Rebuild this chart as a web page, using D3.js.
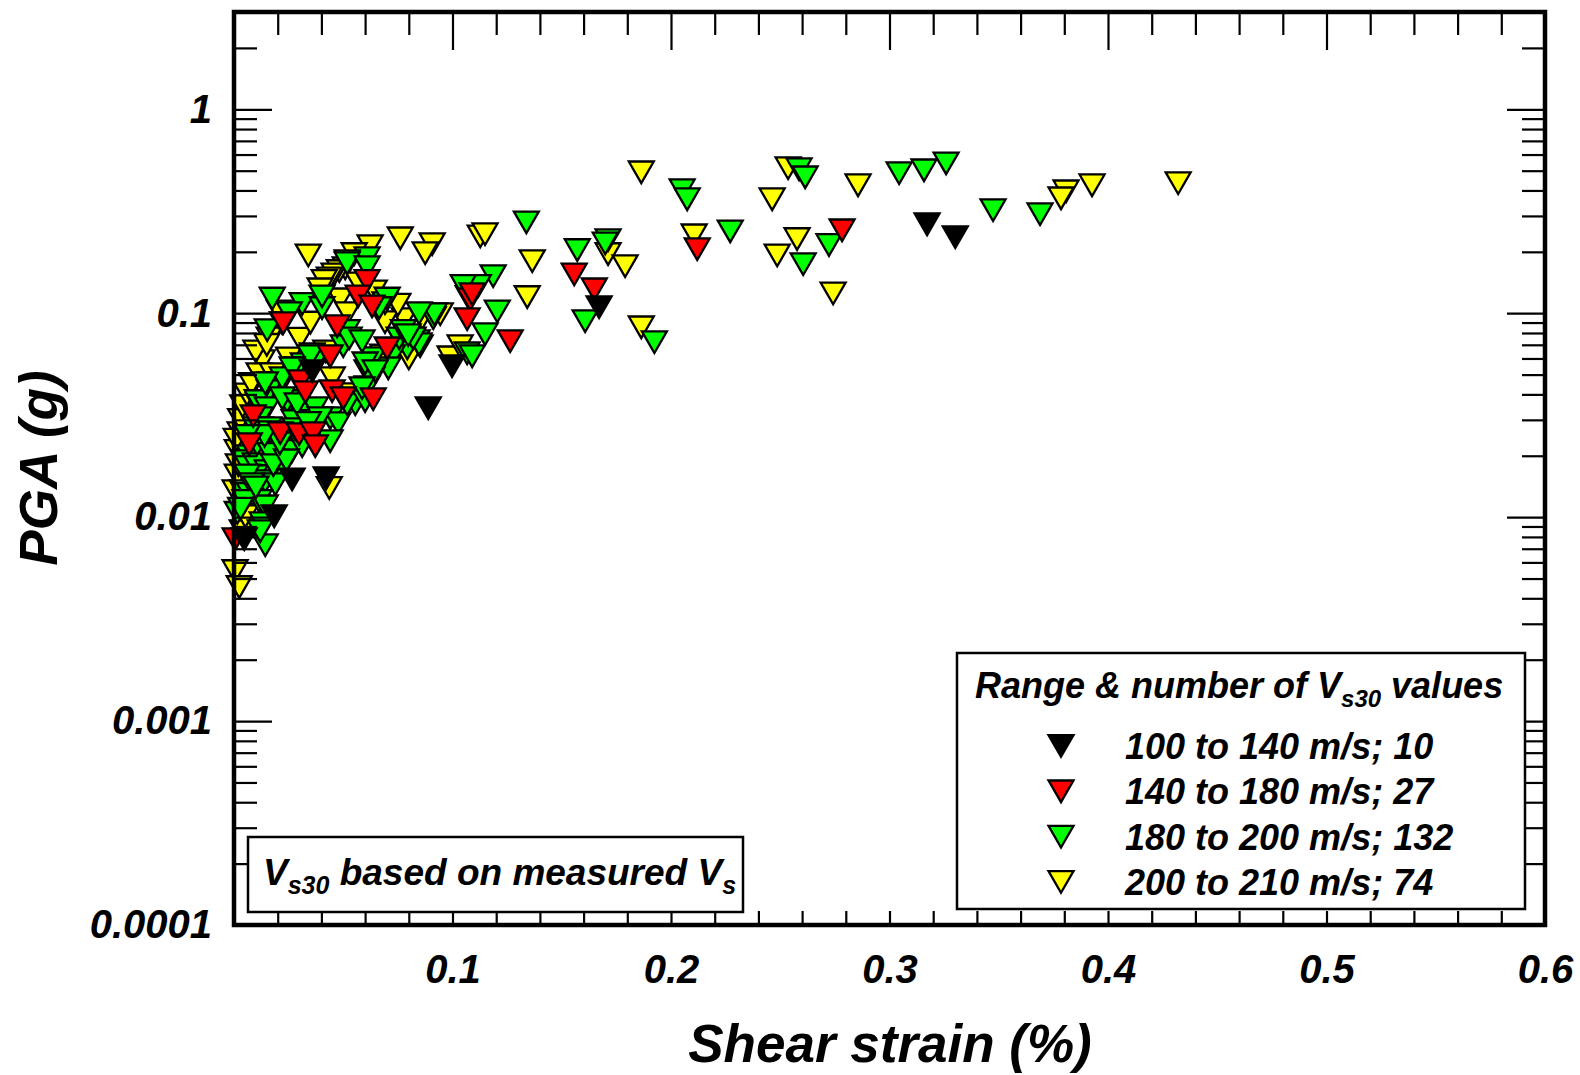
<!DOCTYPE html>
<html>
<head>
<meta charset="utf-8">
<script src="https://cdn.jsdelivr.net/npm/d3@7"></script>
<style>
  html, body { margin: 0; padding: 0; background: #fff; }
  svg text { font-family: "Liberation Sans", Arial, sans-serif; font-weight: bold; font-style: italic; fill: #000; }
</style>
</head>
<body>
<svg id="chart" width="1580" height="1075"></svg>
<script>
// [shear strain %, PGA g]
const black = [
  [0.3172, 0.273], [0.3301, 0.236], [0.1671, 0.107], [0.0998, 0.055], [0.0889, 0.0342],
  [0.0358, 0.052], [0.0266, 0.0153], [0.0422, 0.0155], [0.0184, 0.0101], [0.0047, 0.0078]
];
const red = [
  [0.2783, 0.255], [0.2120, 0.206], [0.1557, 0.155], [0.1649, 0.131], [0.1264, 0.0729],
  [0.1081, 0.117], [0.1067, 0.0935], [0.1090, 0.124], [0.0609, 0.144], [0.0568, 0.121],
  [0.0632, 0.108], [0.0225, 0.0893], [0.0472, 0.0863], [0.0701, 0.0673], [0.0440, 0.0615],
  [0.0303, 0.0464], [0.0449, 0.0415], [0.0500, 0.0383], [0.0637, 0.0379], [0.0088, 0.0313],
  [0.0070, 0.0228], [0.0211, 0.0258], [0.0298, 0.0255], [0.0362, 0.0258], [0.0372, 0.0223],
  [0.0005, 0.0078], [0.0327, 0.041]
];
const green = [
  [0.2051, 0.401], [0.2074, 0.362], [0.2586, 0.508], [0.2614, 0.464], [0.3044, 0.486],
  [0.3158, 0.502], [0.3259, 0.543], [0.3474, 0.320], [0.3689, 0.306], [0.2271, 0.252],
  [0.2723, 0.216], [0.2605, 0.174], [0.1338, 0.279], [0.1571, 0.204], [0.1712, 0.228],
  [0.1699, 0.220], [0.1607, 0.0914], [0.1924, 0.0721], [0.1186, 0.152], [0.1118, 0.136],
  [0.1072, 0.120], [0.1205, 0.102], [0.1149, 0.0789], [0.1067, 0.0636], [0.1090, 0.0615],
  [0.0912, 0.0945], [0.0838, 0.0729], [0.0852, 0.0689], [0.0793, 0.0673], [0.0724, 0.0615],
  [0.0706, 0.0537], [0.0691, 0.112], [0.0609, 0.186], [0.0518, 0.180], [0.0175, 0.118],
  [0.0312, 0.111], [0.0403, 0.106], [0.0221, 0.0893], [0.0152, 0.0826], [0.0509, 0.0798],
  [0.0500, 0.0689], [0.0637, 0.0602], [0.0358, 0.0630], [0.0381, 0.0602], [0.0317, 0.0562],
  [0.0289, 0.0537], [0.0166, 0.0454], [0.0111, 0.0358], [0.0243, 0.0350], [0.0362, 0.0331],
  [0.0609, 0.0520], [0.0632, 0.0480], [0.0609, 0.0434], [0.0555, 0.0358], [0.0440, 0.0306],
  [0.0477, 0.0289], [0.0120, 0.0273],
  [0.0161, 0.0415], [0.0106, 0.0371], [0.0243, 0.0371], [0.0152, 0.0342], [0.0326, 0.0331],
  [0.0372, 0.0342], [0.0518, 0.0358], [0.0600, 0.0371], [0.0120, 0.0306], [0.0275, 0.0296],
  [0.0097, 0.0273], [0.0161, 0.0273], [0.0115, 0.0236], [0.0175, 0.0215], [0.0266, 0.0211],
  [0.0312, 0.0223], [0.0440, 0.0236], [0.0070, 0.0199], [0.0047, 0.0188], [0.0097, 0.0182],
  [0.0152, 0.0168], [0.0211, 0.0168], [0.0097, 0.0159], [0.0143, 0.0150], [0.0189, 0.0145],
  [0.0038, 0.0134], [0.0070, 0.0130], [0.0115, 0.0120], [0.0143, 0.0113], [0.0015, 0.0105],
  [0.0129, 0.00935], [0.0143, 0.00729], [0.0120, 0.00854],
  [0.0518, 0.176], [0.0609, 0.168], [0.0403, 0.121], [0.0253, 0.100], [0.0701, 0.118],
  [0.0664, 0.106], [0.0917, 0.0989], [0.0847, 0.100], [0.0756, 0.0753], [0.0847, 0.0705],
  [0.0518, 0.0818], [0.0527, 0.0753], [0.0349, 0.0615], [0.0600, 0.0568], [0.0646, 0.0520],
  [0.0221, 0.0480], [0.0143, 0.0454], [0.0266, 0.0537], [0.0586, 0.0429], [0.1049, 0.136],
  [0.0775, 0.0818], [0.0820, 0.0753], [0.0586, 0.0729], [0.0797, 0.0780], [0.0394, 0.0306],
  [0.0166, 0.0261], [0.0106, 0.0228], [0.0166, 0.0204], [0.0221, 0.0383], [0.0289, 0.0358],
  [0.0060, 0.0160], [0.0080, 0.0145], [0.0050, 0.0120], [0.0030, 0.0110], [0.0100, 0.0140],
  [0.0180, 0.0180], [0.0240, 0.0190], [0.0210, 0.0230], [0.0140, 0.0250], [0.0280, 0.0270],
  [0.0060, 0.0250], [0.0340, 0.0290]
];
const yellow = [
  [0.1864, 0.491], [0.2463, 0.362], [0.2536, 0.514], [0.2856, 0.424], [0.3808, 0.396],
  [0.3785, 0.366], [0.3927, 0.424], [0.4321, 0.434], [0.2106, 0.241], [0.2486, 0.192],
  [0.2577, 0.231], [0.2742, 0.125], [0.1712, 0.195], [0.1790, 0.170], [0.1864, 0.0853],
  [0.1365, 0.180], [0.1342, 0.120], [0.1127, 0.238], [0.1149, 0.244], [0.0340, 0.192],
  [0.0623, 0.213], [0.0761, 0.233], [0.0907, 0.218], [0.0875, 0.197], [0.0509, 0.166],
  [0.0482, 0.161], [0.0458, 0.155], [0.0436, 0.148], [0.0413, 0.144], [0.0394, 0.131],
  [0.0486, 0.117], [0.0207, 0.102], [0.0779, 0.0935], [0.0861, 0.0945], [0.0161, 0.0753],
  [0.0129, 0.0582], [0.0115, 0.0502], [0.0175, 0.0502], [0.0545, 0.0401], [0.0691, 0.0903],
  [0.0642, 0.128], [0.0944, 0.0989], [0.0989, 0.0608], [0.1035, 0.0689], [0.0436, 0.0139],
  [0.0005, 0.00544], [0.0024, 0.00454], [0.0028, 0.0258], [0.0015, 0.0211], [0.0005, 0.0134],
  [0.0047, 0.0103], [0.0038, 0.00854], [0.0052, 0.0101],
  [0.0015, 0.0160], [0.0020, 0.0180], [0.0010, 0.0240], [0.0030, 0.0300], [0.0040, 0.0350],
  [0.0060, 0.0400], [0.0080, 0.0450], [0.0100, 0.0650], [0.0150, 0.0700], [0.0200, 0.0420],
  [0.0250, 0.0600], [0.0300, 0.0750], [0.0350, 0.0900], [0.0420, 0.0650], [0.0450, 0.0480],
  [0.0520, 0.1000], [0.0570, 0.1400], [0.0680, 0.0620], [0.0750, 0.1100], [0.0800, 0.0600],
  [0.0550, 0.1950]
];

const legendLabels = ["100 to 140 m/s; 10", "140 to 180 m/s; 27", "180 to 200 m/s; 132", "200 to 210 m/s; 74"];
const seriesColors = ["#000000", "#ff0000", "#00ff00", "#ffff00"];
const xTickValues = [0.1, 0.2, 0.3, 0.4, 0.5, 0.6];
const xTickLabels = ["0.1", "0.2", "0.3", "0.4", "0.5", "0.6"];
const yTickValues = [0.0001, 0.001, 0.01, 0.1, 1];
const yTickLabels = ["0.0001", "0.001", "0.01", "0.1", "1"];

const svg = d3.select("#chart");
const plotLeft = 234, plotRight = 1545, plotTop = 12, plotBottom = 925;

const x = d3.scaleLinear().domain([0, 0.6]).range([plotLeft, plotRight]);
const y = d3.scaleLog().domain([0.0001, 3]).range([plotBottom, plotTop]);

// inverted triangle centred on its box
const triDown = {
  draw(ctx, size) {
    const s = Math.sqrt(size / (Math.sqrt(3) / 4));
    const h = s * Math.sqrt(3) / 2;
    ctx.moveTo(-s / 2, -h / 2);
    ctx.lineTo(s / 2, -h / 2);
    ctx.lineTo(0, h / 2);
    ctx.closePath();
  }
};
const marker = d3.symbol().type(triDown).size(270);

// draw order: yellow at the back, black on top
const layers = [[yellow, seriesColors[3]], [green, seriesColors[2]], [red, seriesColors[1]], [black, seriesColors[0]]];
layers.forEach(([data, col]) => {
  svg.append("g").selectAll("path")
    .data(data)
    .enter()
    .append("path")
    .attr("d", marker)
    .attr("transform", d => "translate(" + x(d[0]) + "," + y(d[1]) + ")")
    .attr("fill", col)
    .attr("stroke", "#000")
    .attr("stroke-width", 2.3)
    .attr("stroke-linejoin", "miter");
});

// tick positions
let xMinor = d3.range(0.02, 0.6, 0.02).filter(v => Math.abs(v * 10 - Math.round(v * 10)) > 1e-6);
let yMinor = [];
for (let e = -4; e <= 0; e++) {
  for (let k = 2; k <= 9; k++) {
    const v = k * Math.pow(10, e);
    if (v < 3) yMinor.push(v);
  }
}

function styleTicks(g) {
  g.select(".domain").remove();
  g.selectAll("line").attr("stroke", "#000").attr("stroke-width", 2.2);
}

// bottom (all short, inside)
svg.append("g").attr("transform", "translate(0," + plotBottom + ")")
  .call(d3.axisBottom(x).tickValues(xMinor.concat(xTickValues)).tickSizeInner(-14).tickSizeOuter(0).tickFormat(""))
  .call(styleTicks);

svg.append("g").attr("transform", "translate(0," + plotBottom + ")")
  .call(d3.axisBottom(x).tickValues(xTickValues).tickSize(0).tickPadding(30).tickFormat((d, i) => xTickLabels[i]))
  .call(g => g.select(".domain").remove())
  .call(g => g.selectAll("text").attr("font-size", 40).attr("font-family", null));

// top
svg.append("g").attr("transform", "translate(0," + plotTop + ")")
  .call(d3.axisTop(x).tickValues(xMinor).tickSizeInner(-23).tickSizeOuter(0).tickFormat(""))
  .call(styleTicks);
svg.append("g").attr("transform", "translate(0," + plotTop + ")")
  .call(d3.axisTop(x).tickValues(xTickValues).tickSizeInner(-38).tickSizeOuter(0).tickFormat(""))
  .call(styleTicks);

// left
svg.append("g").attr("transform", "translate(" + plotLeft + ",0)")
  .call(d3.axisLeft(y).tickValues(yMinor).tickSizeInner(-23).tickSizeOuter(0).tickFormat(""))
  .call(styleTicks);
svg.append("g").attr("transform", "translate(" + plotLeft + ",0)")
  .call(d3.axisLeft(y).tickValues(yTickValues).tickSizeInner(-38).tickSizeOuter(0).tickPadding(22)
    .tickFormat((d, i) => yTickLabels[i]))
  .call(styleTicks)
  .call(g => g.selectAll("text").attr("font-size", 40).attr("font-family", null));

// right
svg.append("g").attr("transform", "translate(" + plotRight + ",0)")
  .call(d3.axisRight(y).tickValues(yMinor).tickSizeInner(-23).tickSizeOuter(0).tickFormat(""))
  .call(styleTicks);
svg.append("g").attr("transform", "translate(" + plotRight + ",0)")
  .call(d3.axisRight(y).tickValues(yTickValues).tickSizeInner(-38).tickSizeOuter(0).tickFormat(""))
  .call(styleTicks);

// frame
svg.append("rect")
  .attr("x", plotLeft).attr("y", plotTop)
  .attr("width", plotRight - plotLeft).attr("height", plotBottom - plotTop)
  .attr("fill", "none").attr("stroke", "#000").attr("stroke-width", 4.5);

// axis titles
svg.append("text")
  .attr("x", 890).attr("y", 1062)
  .attr("text-anchor", "middle")
  .attr("font-size", 53)
  .text("Shear strain (%)");

svg.append("text")
  .attr("transform", "translate(57,468) rotate(-90)")
  .attr("text-anchor", "middle")
  .attr("font-size", 53)
  .text("PGA (g)");

// legend
const lg = svg.append("g");
lg.append("rect")
  .attr("x", 957).attr("y", 653).attr("width", 568).attr("height", 256)
  .attr("fill", "#fff").attr("stroke", "#000").attr("stroke-width", 2.5);

const lt = lg.append("text").attr("x", 975).attr("y", 698).attr("font-size", 36);
lt.append("tspan").text("Range & number of V");
lt.append("tspan").attr("font-size", 24).attr("dy", 9).text("s30");
lt.append("tspan").attr("dy", -9).text(" values");

const rowY = d3.scalePoint().domain(legendLabels).range([746, 882]);
legendLabels.forEach((lab, i) => {
  lg.append("path")
    .attr("d", marker)
    .attr("transform", "translate(1061," + rowY(lab) + ")")
    .attr("fill", seriesColors[i])
    .attr("stroke", "#000").attr("stroke-width", 2.3);
  lg.append("text")
    .attr("x", 1125).attr("y", rowY(lab) + 13)
    .attr("font-size", 36)
    .text(lab);
});

// note box
const nb = svg.append("g");
nb.append("rect")
  .attr("x", 248).attr("y", 837).attr("width", 495).attr("height", 75)
  .attr("fill", "#fff").attr("stroke", "#000").attr("stroke-width", 2.5);
const nt = nb.append("text").attr("x", 263).attr("y", 885).attr("font-size", 37);
nt.append("tspan").text("V");
nt.append("tspan").attr("font-size", 25).attr("dy", 9).text("s30");
nt.append("tspan").attr("dy", -9).text(" based on measured V");
nt.append("tspan").attr("font-size", 25).attr("dy", 9).text("s");
</script>
</body>
</html>
